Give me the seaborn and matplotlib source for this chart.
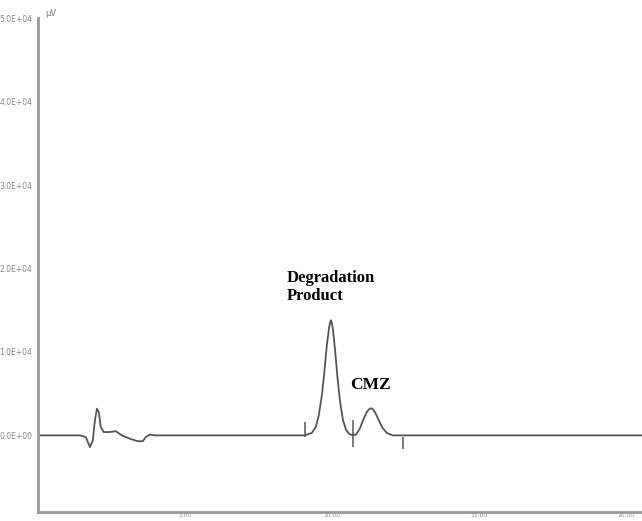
import numpy as np
import pandas as pd
import matplotlib
matplotlib.use("Agg")
import matplotlib.pyplot as plt
import seaborn as sns

# chromatogram trace (time in min, signal in uV)
time_min = [0.0, 1.43, 1.63, 1.77, 1.87, 1.94, 2.01, 2.07, 2.14, 2.24, 2.45, 2.65,
            2.86, 3.13, 3.40, 3.57, 3.67, 3.81, 3.98, 6.53, 9.08, 9.32, 9.45, 9.55,
            9.66, 9.75, 9.83, 9.90, 9.94, 9.97, 10.00, 10.04, 10.11, 10.19, 10.28,
            10.38, 10.48, 10.58, 10.71, 10.82, 10.95, 11.07, 11.19, 11.27, 11.33,
            11.39, 11.48, 11.60, 11.72, 11.87, 12.07, 20.6]
signal_uv = [0, 0, -200, -1400, -600, 1800, 3200, 2800, 1000, 400, 400, 500,
             0, -400, -700, -700, -200, 100, 0, 0, 0, 300, 1000, 2300,
             4800, 7800, 10800, 12800, 13500, 13800, 13500, 12600, 10200, 7000, 4000,
             1800, 700, 200, 0, 100, 800, 1900, 2800, 3150, 3250,
             3150, 2700, 1800, 900, 300, 0, 0]

# integration marks on the baseline
mark_t = [9.08, 10.71, 12.41]
mark_lo = [-200, -1400, -1600]
mark_hi = [1600, 1800, -200]

y_ticks = [0, 10000, 20000, 30000, 40000, 50000]
y_labels = ["0.0E+00", "1.0E+04", "2.0E+04", "3.0E+04", "4.0E+04", "5.0E+04"]
x_ticks = [5, 10, 15, 20]
x_labels = ["5.00", "10.00", "15.00", "20.00"]

df = pd.DataFrame({"t": time_min, "s": signal_uv})

sns.set_style("white")
fig = plt.figure(figsize=(6.42, 5.21), dpi=100)
ax = fig.add_axes([0.059, 0.017, 0.941, 0.948])

sns.lineplot(data=df, x="t", y="s", ax=ax, color="#555555", linewidth=1.3)
ax.vlines(mark_t, mark_lo, mark_hi, color="#555555", linewidth=1.1)

ax.set_xlim(0, 20.55)
ax.set_ylim(-9200, 50000)
ax.set_xticks(x_ticks)
ax.set_xticklabels(x_labels)
ax.set_yticks(y_ticks)
ax.set_yticklabels(y_labels)
ax.tick_params(axis="y", labelsize=5.5, labelcolor="#888888", color="#777777",
               length=3, width=0.8, pad=1)
ax.tick_params(axis="x", labelsize=4.3, labelcolor="#888888", length=0, pad=0.5)
ax.set_xlabel("")
ax.set_ylabel("")

for side in ["top", "right"]:
    ax.spines[side].set_visible(False)
for side in ["left", "bottom"]:
    ax.spines[side].set_color("#999999")
    ax.spines[side].set_linewidth(2)

ax.text(0.012, 1.0, "µV", transform=ax.transAxes, fontsize=6, color="#777777",
        va="bottom", ha="left")

ax.text(8.45, 15800, "Degradation\nProduct", family="Liberation Serif",
        fontweight="bold", fontsize=12, ha="left", va="bottom", linespacing=1.1,
        color="black")
ax.text(10.62, 5100, "CMZ", family="Liberation Serif", fontweight="bold",
        fontsize=12.5, ha="left", va="bottom", color="black")

fig.savefig("out.png", dpi=100)
